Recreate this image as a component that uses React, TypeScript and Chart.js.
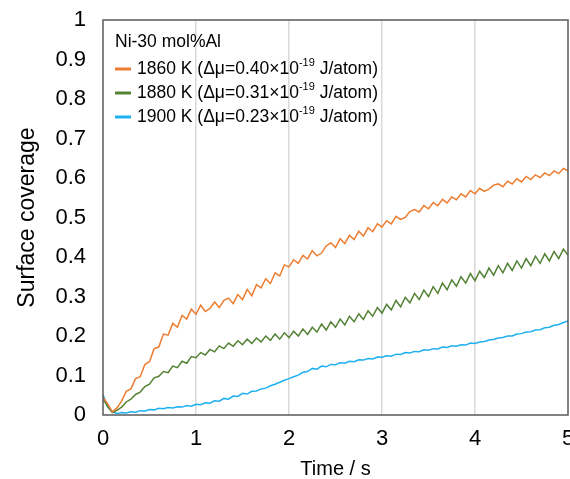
import React, { useEffect, useRef } from "react";
import { Chart, registerables } from "chart.js";

Chart.register(...registerables);

// Sampled every 0.05 s from 0 to 5 s
const ORANGE_1860 = [
  0.045, 0.028, 0.008, 0.018, 0.035, 0.06, 0.066, 0.092, 0.097, 0.128,
  0.135, 0.168, 0.172, 0.205, 0.202, 0.232, 0.222, 0.252, 0.243, 0.268,
  0.255, 0.278, 0.262, 0.27, 0.286, 0.272, 0.29, 0.296, 0.282, 0.305,
  0.292, 0.318, 0.302, 0.33, 0.322, 0.345, 0.333, 0.36, 0.352, 0.38,
  0.375, 0.393, 0.384, 0.404, 0.395, 0.416, 0.403, 0.41, 0.428, 0.436,
  0.424, 0.446, 0.434, 0.455, 0.444, 0.465, 0.453, 0.474, 0.464, 0.484,
  0.476, 0.492, 0.484, 0.503, 0.495, 0.5, 0.515, 0.52, 0.514, 0.53,
  0.522, 0.538, 0.53, 0.546, 0.537, 0.552, 0.545, 0.56, 0.552, 0.568,
  0.56, 0.574, 0.566, 0.572, 0.582, 0.585, 0.578, 0.592, 0.585, 0.598,
  0.59, 0.604, 0.596, 0.608, 0.601, 0.613, 0.606, 0.618, 0.611, 0.624,
  0.618,
];

const GREEN_1880 = [
  0.04, 0.022, 0.006, 0.012, 0.02, 0.033, 0.04, 0.052, 0.058, 0.072,
  0.078, 0.094, 0.098, 0.11, 0.107, 0.124, 0.12, 0.136, 0.131, 0.148,
  0.145, 0.158, 0.152, 0.166, 0.16, 0.175, 0.168, 0.182, 0.174, 0.188,
  0.178, 0.192, 0.181, 0.195, 0.185, 0.2, 0.189, 0.205, 0.192, 0.208,
  0.196, 0.212, 0.2, 0.218, 0.204, 0.222, 0.21, 0.23, 0.215, 0.236,
  0.222, 0.243, 0.228, 0.25, 0.236, 0.256, 0.242, 0.264, 0.25, 0.272,
  0.258, 0.28, 0.266, 0.29, 0.274, 0.298, 0.284, 0.308, 0.292, 0.316,
  0.3, 0.325, 0.308, 0.334, 0.317, 0.342, 0.326, 0.35, 0.334, 0.358,
  0.34, 0.364, 0.348, 0.372, 0.354, 0.378, 0.36, 0.384, 0.366, 0.39,
  0.372, 0.396, 0.378, 0.402, 0.384, 0.408, 0.39, 0.414, 0.396, 0.42,
  0.405,
];

const BLUE_1900 = [
  0.052, 0.02, 0.008, 0.004, 0.006, 0.005, 0.008, 0.007, 0.011, 0.01,
  0.014, 0.013, 0.017, 0.016, 0.019, 0.018, 0.021, 0.02, 0.024, 0.022,
  0.027, 0.026, 0.031, 0.03, 0.036, 0.035, 0.042, 0.04, 0.048, 0.047,
  0.055, 0.053, 0.06, 0.061, 0.066, 0.068, 0.074, 0.078, 0.083, 0.088,
  0.092, 0.097, 0.101, 0.108, 0.11, 0.118, 0.116, 0.124, 0.122, 0.128,
  0.127, 0.132, 0.131, 0.136, 0.135, 0.14, 0.139, 0.143, 0.142, 0.147,
  0.146, 0.15, 0.149, 0.154, 0.153, 0.158, 0.157, 0.161, 0.16, 0.165,
  0.164, 0.168, 0.167, 0.172, 0.171, 0.175, 0.174, 0.178, 0.177, 0.182,
  0.181, 0.185, 0.186, 0.19, 0.191, 0.195, 0.196, 0.2, 0.2, 0.205,
  0.206, 0.21, 0.211, 0.215, 0.216, 0.221, 0.222, 0.227, 0.229, 0.234,
  0.238,
];

const TIME_STEP = 0.05;
const TIME = ORANGE_1860.map((_, i) => +(i * TIME_STEP).toFixed(2));

const LEGEND_TITLE = "Ni-30 mol%Al";
const LABEL_MAIN = [
  "1860 K (Δμ=0.40×10",
  "1880 K (Δμ=0.31×10",
  "1900 K (Δμ=0.23×10",
];
const LABEL_SUP = ["-19", "-19", "-19"];
const LABEL_TAIL = [" J/atom)", " J/atom)", " J/atom)"];
const COLORS = ["#ED7D31", "#548235", "#1FB0F0"];
const SERIES = [ORANGE_1860, GREEN_1880, BLUE_1900];

const X_TITLE = "Time / s";
const Y_TITLE = "Surface coverage";

const FONT = '"Liberation Sans", Arial, sans-serif';

const frameAndLegend = {
  id: "frameAndLegend",
  afterDatasetsDraw(chart: any) {
    const { ctx, chartArea } = chart;
    ctx.save();
    ctx.strokeStyle = "#595959";
    ctx.lineWidth = 1.5;
    ctx.strokeRect(
      chartArea.left,
      chartArea.top,
      chartArea.right - chartArea.left,
      chartArea.bottom - chartArea.top
    );
    const x0 = chartArea.left + 12;
    ctx.fillStyle = "#000";
    ctx.textBaseline = "middle";
    ctx.textAlign = "left";
    ctx.font = `17.5px ${FONT}`;
    ctx.fillText(LEGEND_TITLE, x0, chartArea.top + 22);
    chart.data.datasets.forEach((ds: any, i: number) => {
      const y = chartArea.top + 49 + i * 24;
      ctx.strokeStyle = ds.borderColor;
      ctx.lineWidth = 3;
      ctx.beginPath();
      ctx.moveTo(x0, y);
      ctx.lineTo(x0 + 16, y);
      ctx.stroke();
      let x = x0 + 22;
      ctx.font = `17.5px ${FONT}`;
      ctx.fillText(LABEL_MAIN[i], x, y);
      x += ctx.measureText(LABEL_MAIN[i]).width;
      ctx.font = `11px ${FONT}`;
      ctx.fillText(LABEL_SUP[i], x, y - 6);
      x += ctx.measureText(LABEL_SUP[i]).width;
      ctx.font = `17.5px ${FONT}`;
      ctx.fillText(LABEL_TAIL[i], x, y);
    });
    ctx.restore();
  },
};

export default function App() {
  const ref = useRef<HTMLCanvasElement | null>(null);

  useEffect(() => {
    if (!ref.current) return;
    const chart = new Chart(ref.current, {
      type: "line",
      data: {
        datasets: SERIES.map((arr, i) => ({
          label: LABEL_MAIN[i] + "⁻¹⁹" + LABEL_TAIL[i],
          data: arr.map((v, j) => ({ x: TIME[j], y: v })),
          borderColor: COLORS[i],
          backgroundColor: COLORS[i],
          borderWidth: 1.5,
          pointRadius: 0,
          tension: 0,
          fill: false,
        })),
      },
      options: {
        responsive: false,
        animation: false,
        layout: { padding: { top: 20, right: 2, left: 0, bottom: 0 } },
        plugins: {
          legend: { display: false },
          tooltip: { enabled: false },
        },
        scales: {
          x: {
            type: "linear",
            min: 0,
            max: 5,
            border: { display: false },
            grid: {
              drawTicks: false,
              color: (c: any) =>
                c.tick && c.tick.value > 0 && c.tick.value < 5
                  ? "#d9d9d9"
                  : "rgba(0,0,0,0)",
              lineWidth: 1.5,
            },
            ticks: {
              stepSize: 1,
              padding: 11,
              color: "#000",
              font: { family: FONT, size: 22 },
              maxRotation: 0,
            },
            title: {
              display: true,
              text: X_TITLE,
              color: "#000",
              font: { family: FONT, size: 20, lineHeight: 1 },
              padding: { top: 0, bottom: 0 },
            },
            afterFit: (s: any) => {
              s.height = 64;
              s.paddingLeft = 0;
              s.paddingRight = 0;
            },
          },
          y: {
            type: "linear",
            min: 0,
            max: 1,
            border: { display: false },
            grid: { display: false, drawTicks: false },
            ticks: {
              stepSize: 0.1,
              padding: 17,
              color: "#000",
              font: { family: FONT, size: 22 },
              callback: (v: any) => String(+Number(v).toFixed(1)),
            },
            title: {
              display: true,
              text: Y_TITLE,
              color: "#000",
              font: { family: FONT, size: 23, lineHeight: 1 },
              padding: { top: 16, bottom: 0 },
            },
            afterFit: (s: any) => {
              s.width = 103;
              s.paddingTop = 0;
              s.paddingBottom = 0;
            },
          },
        },
      },
      plugins: [frameAndLegend],
    });
    return () => chart.destroy();
  }, []);

  return (
    <div style={{ position: "absolute", left: 0, top: 0, width: 570, height: 479, background: "#fff" }}>
      <canvas ref={ref} width={570} height={479} style={{ display: "block" }} />
    </div>
  );
}
